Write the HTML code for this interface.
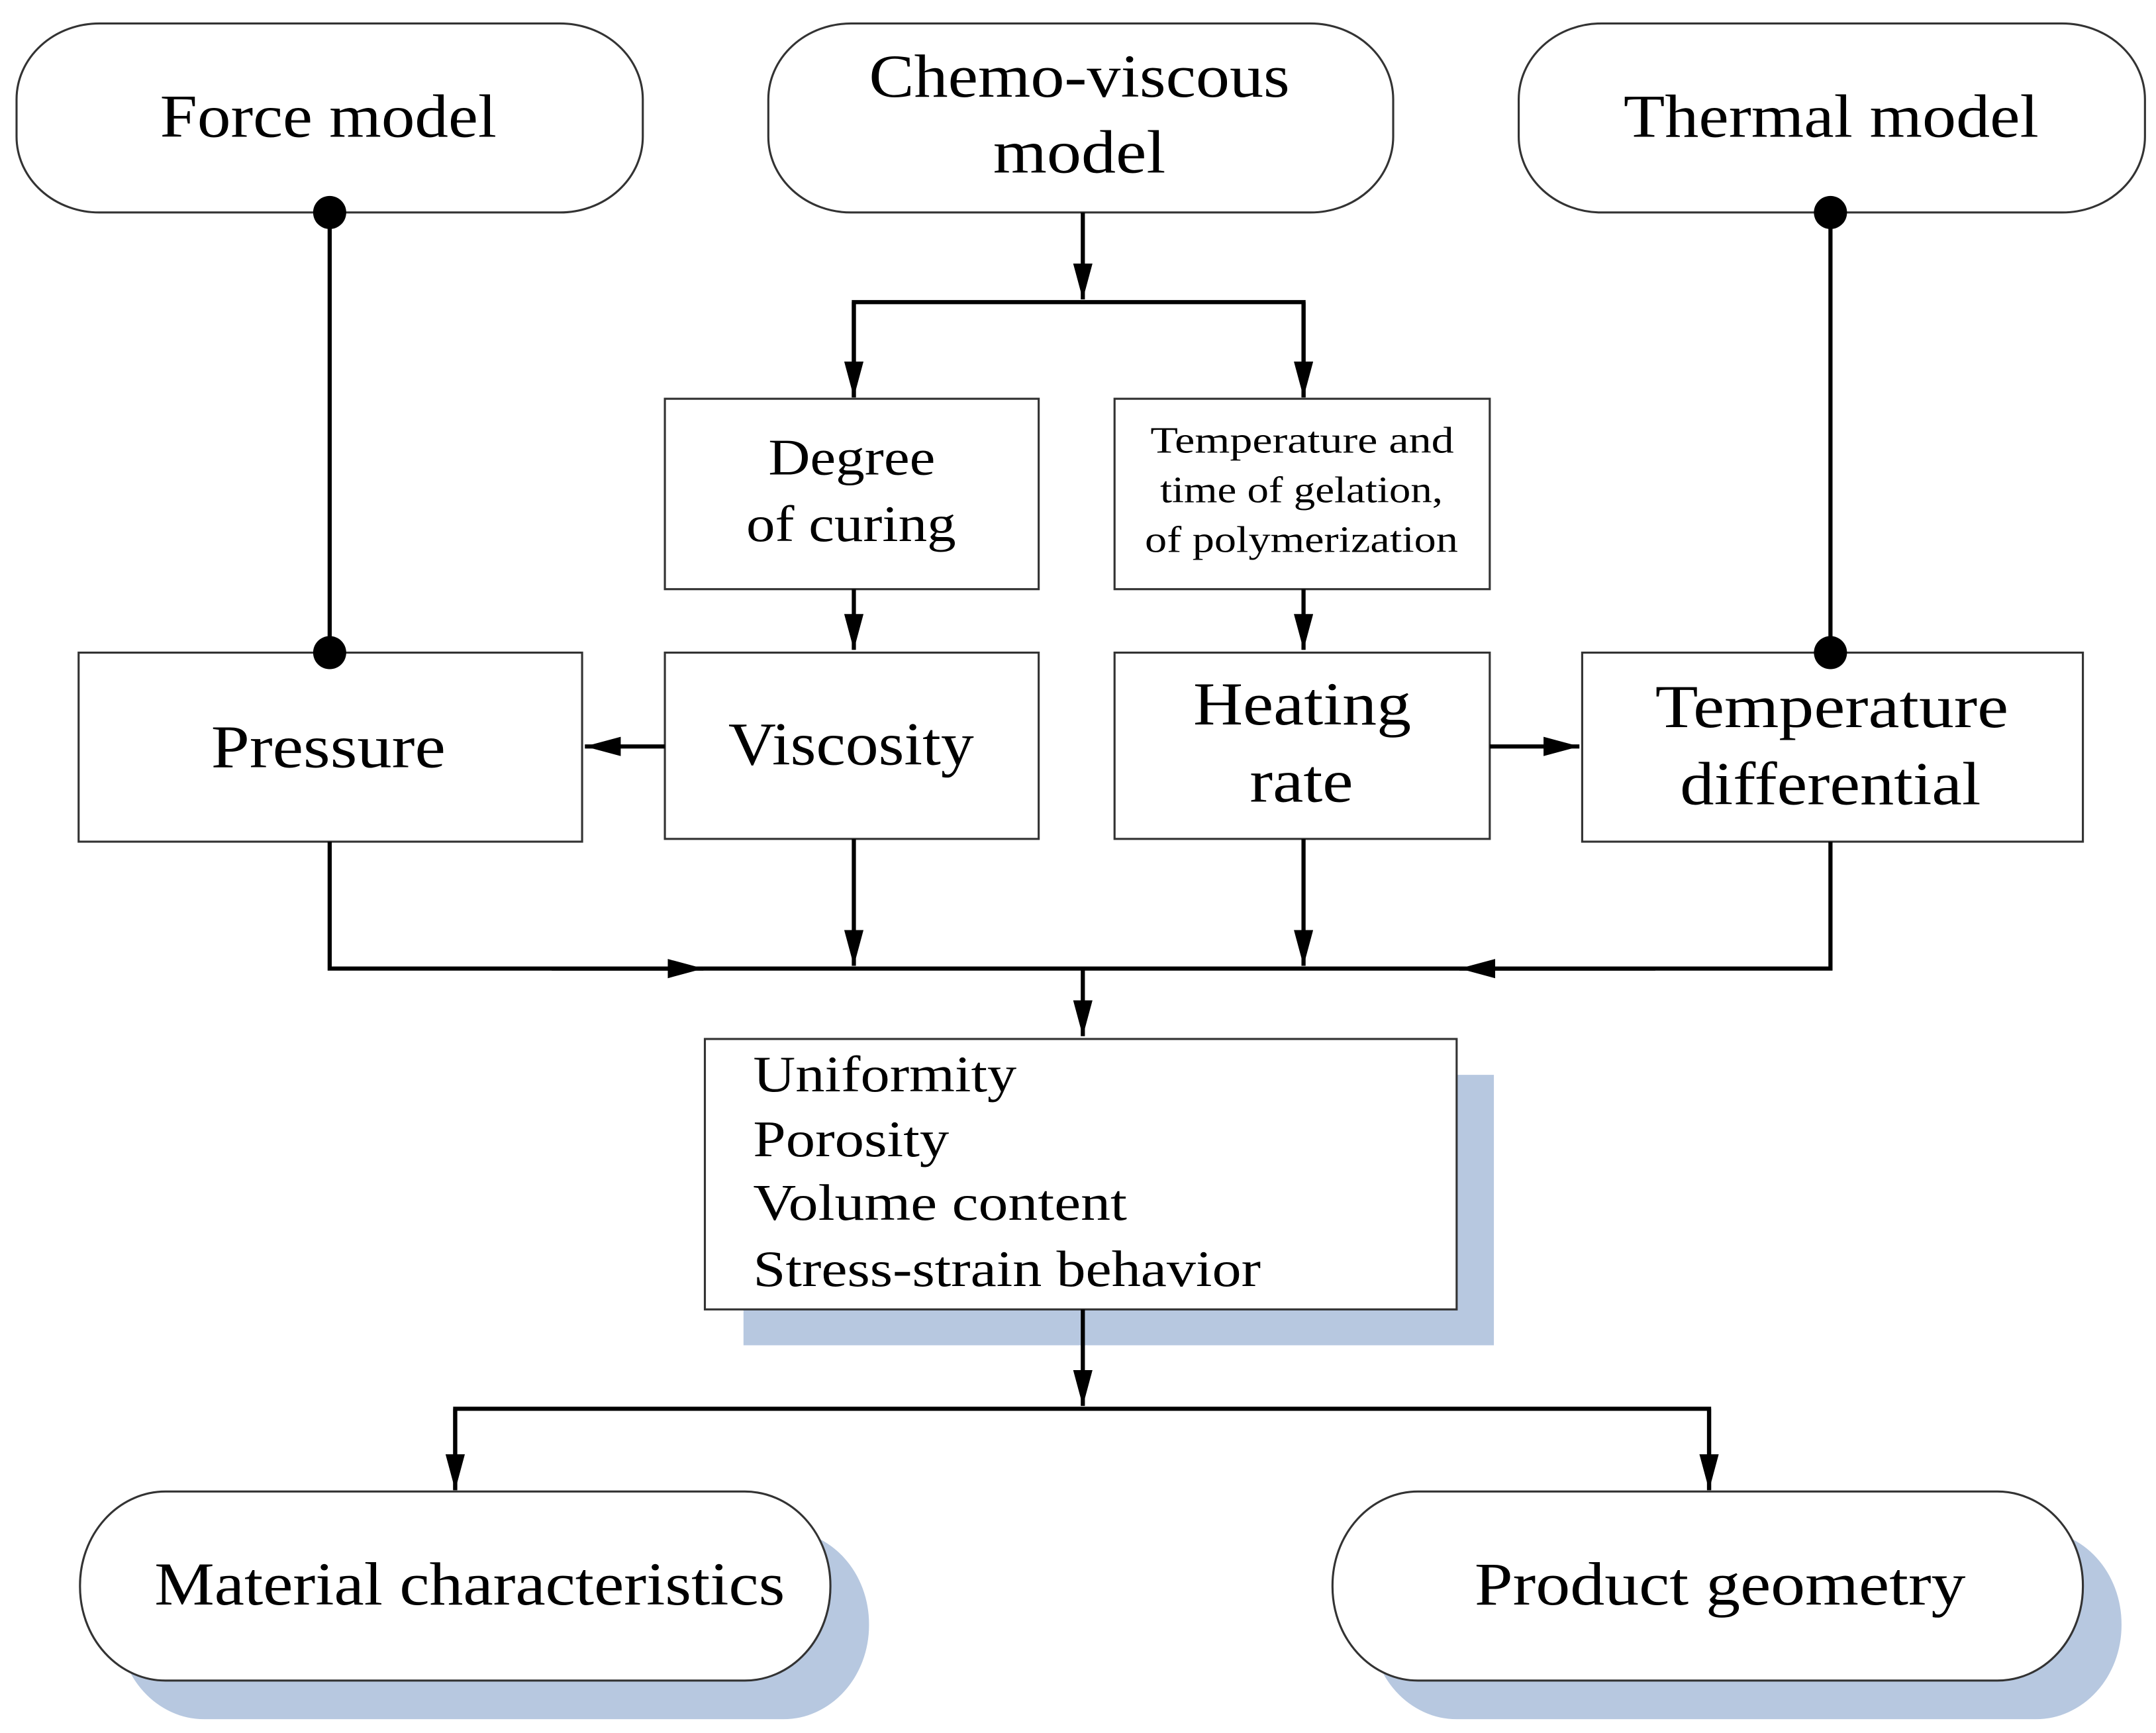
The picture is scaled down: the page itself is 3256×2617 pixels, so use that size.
<!DOCTYPE html>
<html><head><meta charset="utf-8"><style>
html,body{margin:0;padding:0;background:#fff;}
svg{display:block;}
text{font-family:"Liberation Serif",serif;fill:#000;}
</style></head><body>
<svg width="3256" height="2617" viewBox="0 0 1563 1256" preserveAspectRatio="none" xmlns="http://www.w3.org/2000/svg">
<defs>
<marker id="b" viewBox="0 0 26 14" refX="26" refY="7" markerWidth="26" markerHeight="14" markerUnits="userSpaceOnUse" orient="auto">
<path d="M0,0 L26,7 L0,14 Z" fill="#000"/></marker>
</defs>
<rect x="539" y="779" width="544" height="196" fill="#b7c8e0"/>
<rect x="86" y="1109" width="544" height="137" rx="62" ry="68" fill="#b7c8e0"/>
<rect x="994" y="1109" width="544" height="137" rx="62" ry="68" fill="#b7c8e0"/>

<g fill="#fff" stroke="#333" stroke-width="1.5">
<rect x="12" y="17" width="454" height="137" rx="60" ry="55"/>
<rect x="557" y="17" width="453" height="137" rx="60" ry="55"/>
<rect x="1101" y="17" width="454" height="137" rx="60" ry="55"/>
<rect x="482" y="289" width="271" height="138"/>
<rect x="808" y="289" width="272" height="138"/>
<rect x="57" y="473" width="365" height="137"/>
<rect x="482" y="473" width="271" height="135"/>
<rect x="808" y="473" width="272" height="135"/>
<rect x="1147" y="473" width="363" height="137"/>
<rect x="511" y="753" width="545" height="196"/>
<rect x="58" y="1081" width="544" height="137" rx="62" ry="68"/>
<rect x="966" y="1081" width="544" height="137" rx="62" ry="68"/>
</g>

<g stroke="#000" stroke-width="3" fill="none">
<line x1="239" y1="154" x2="239" y2="473"/>
<line x1="1327" y1="154" x2="1327" y2="473"/>
<line x1="785" y1="154" x2="785" y2="217" marker-end="url(#b)"/>
<polyline points="619,288 619,219 945,219 945,288"/>
<line x1="619" y1="219" x2="619" y2="288" marker-end="url(#b)"/>
<line x1="945" y1="219" x2="945" y2="288" marker-end="url(#b)"/>
<line x1="619" y1="427" x2="619" y2="471" marker-end="url(#b)"/>
<line x1="945" y1="427" x2="945" y2="471" marker-end="url(#b)"/>
<line x1="482" y1="541" x2="424" y2="541" marker-end="url(#b)"/>
<line x1="1080" y1="541" x2="1145" y2="541" marker-end="url(#b)"/>
<polyline points="239,610 239,702 510,702"/>
<line x1="400" y1="702" x2="510" y2="702" marker-end="url(#b)"/>
<polyline points="1327,610 1327,702 1058,702"/>
<line x1="1200" y1="702" x2="1058" y2="702" marker-end="url(#b)"/>
<line x1="510" y1="702" x2="1058" y2="702"/>
<line x1="619" y1="608" x2="619" y2="700" marker-end="url(#b)"/>
<line x1="945" y1="608" x2="945" y2="700" marker-end="url(#b)"/>
<line x1="785" y1="702" x2="785" y2="751" marker-end="url(#b)"/>
<line x1="785" y1="949" x2="785" y2="1019" marker-end="url(#b)"/>
<polyline points="330,1080 330,1021 1239,1021 1239,1080"/>
<line x1="330" y1="1021" x2="330" y2="1080" marker-end="url(#b)"/>
<line x1="1239" y1="1021" x2="1239" y2="1080" marker-end="url(#b)"/>
</g>
<g fill="#000">
<circle cx="239" cy="154" r="12"/><circle cx="239" cy="473" r="12"/>
<circle cx="1327" cy="154" r="12"/><circle cx="1327" cy="473" r="12"/>
</g>

<g lengthAdjust="spacingAndGlyphs">
<text x="116" y="99" font-size="44" textLength="244" lengthAdjust="spacingAndGlyphs">Force model</text>
<text x="630" y="70" font-size="44" textLength="305" lengthAdjust="spacingAndGlyphs">Chemo-viscous</text>
<text x="720" y="125" font-size="44" textLength="125" lengthAdjust="spacingAndGlyphs">model</text>
<text x="1177" y="99" font-size="44" textLength="301" lengthAdjust="spacingAndGlyphs">Thermal model</text>
<text x="557" y="344" font-size="37" textLength="121" lengthAdjust="spacingAndGlyphs">Degree</text>
<text x="541" y="392" font-size="37" textLength="152" lengthAdjust="spacingAndGlyphs">of curing</text>
<text x="834" y="328" font-size="27" textLength="220" lengthAdjust="spacingAndGlyphs">Temperature and</text>
<text x="841" y="364" font-size="27" textLength="205" lengthAdjust="spacingAndGlyphs">time of gelation,</text>
<text x="830" y="400" font-size="27" textLength="227" lengthAdjust="spacingAndGlyphs">of polymerization</text>
<text x="153" y="556" font-size="44" textLength="170" lengthAdjust="spacingAndGlyphs">Pressure</text>
<text x="528" y="554" font-size="44" textLength="178" lengthAdjust="spacingAndGlyphs">Viscosity</text>
<text x="865" y="525" font-size="44" textLength="158" lengthAdjust="spacingAndGlyphs">Heating</text>
<text x="906" y="581" font-size="44" textLength="75" lengthAdjust="spacingAndGlyphs">rate</text>
<text x="1200" y="527" font-size="44" textLength="256" lengthAdjust="spacingAndGlyphs">Temperature</text>
<text x="1218" y="583" font-size="44" textLength="218" lengthAdjust="spacingAndGlyphs">differential</text>
<text x="112" y="1163" font-size="44" textLength="457" lengthAdjust="spacingAndGlyphs">Material characteristics</text>
<text x="1069" y="1163" font-size="44" textLength="356" lengthAdjust="spacingAndGlyphs">Product geometry</text>
<text x="546" y="791" font-size="37" textLength="191" lengthAdjust="spacingAndGlyphs">Uniformity</text>
<text x="546" y="838" font-size="37" textLength="142" lengthAdjust="spacingAndGlyphs">Porosity</text>
<text x="546" y="884" font-size="37" textLength="271" lengthAdjust="spacingAndGlyphs">Volume content</text>
<text x="546" y="932" font-size="37" textLength="368" lengthAdjust="spacingAndGlyphs">Stress-strain behavior</text>
</g>
</svg>
</body></html>
